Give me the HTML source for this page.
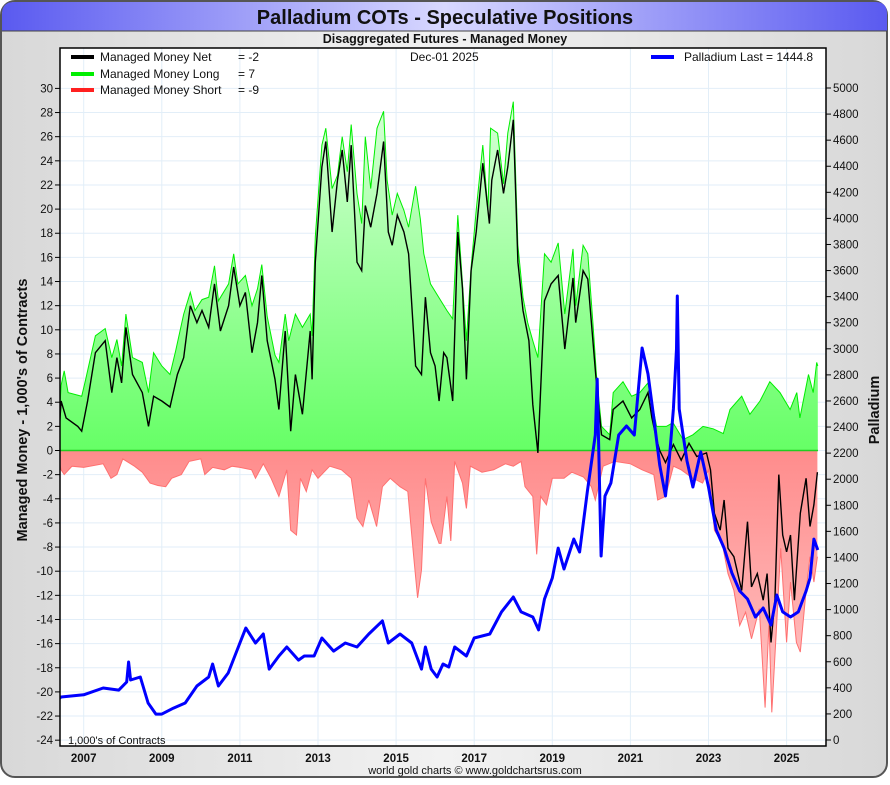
<!DOCTYPE html>
<html><head><meta charset="utf-8"><style>
html,body{margin:0;padding:0;background:#fff;}
body{width:890px;height:780px;overflow:hidden;font-family:"Liberation Sans",sans-serif;}
</style></head><body>
<svg id="chart" width="890" height="780" xmlns="http://www.w3.org/2000/svg" font-family="Liberation Sans, sans-serif">
<defs>
<linearGradient id="bgG" x1="0" y1="0" x2="1" y2="0"><stop offset="0" stop-color="#d8d8d8"/><stop offset="0.5" stop-color="#f2f2f2"/><stop offset="1" stop-color="#d8d8d8"/></linearGradient>
<linearGradient id="titleG" x1="0" y1="0" x2="1" y2="0"><stop offset="0" stop-color="#5a5af0"/><stop offset="0.5" stop-color="#d8d8ff"/><stop offset="1" stop-color="#5a5af0"/></linearGradient>
<linearGradient id="greenG" gradientUnits="userSpaceOnUse" x1="0" y1="100" x2="0" y2="450"><stop offset="0" stop-color="#d8ffd8"/><stop offset="1" stop-color="#66ff66"/></linearGradient>
<linearGradient id="redG" gradientUnits="userSpaceOnUse" x1="0" y1="450" x2="0" y2="720"><stop offset="0" stop-color="#ff8c8c"/><stop offset="1" stop-color="#ffc8c8"/></linearGradient>
<clipPath id="plotClip"><rect x="60" y="48" width="766" height="698"/></clipPath>
</defs>
<rect x="1" y="1" width="886" height="776" rx="14" fill="url(#bgG)" stroke="#555" stroke-width="2"/>
<path d="M2,31 L2,14 Q2,2 14,2 L876,2 Q887,2 887,14 L887,31 Z" fill="url(#titleG)"/>
<line x1="2" y1="31" x2="887" y2="31" stroke="#444" stroke-width="1"/>
<text x="445" y="24" text-anchor="middle" font-size="20" font-weight="bold" fill="#111">Palladium COTs - Speculative Positions</text>
<text x="445" y="43" text-anchor="middle" font-size="12.5" font-weight="bold" fill="#111">Disaggregated Futures - Managed Money</text>
<rect x="60" y="48" width="766" height="698" fill="#fff"/>
<g id="grid"></g>
<g id="series" clip-path="url(#plotClip)"></g>
<rect x="60" y="48" width="766" height="698" fill="none" stroke="#000" stroke-width="1.5"/>
<g id="axes" font-size="11.5" fill="#111"></g>
<text transform="translate(27,410) rotate(-90)" text-anchor="middle" font-size="14.5" font-weight="bold" fill="#111">Managed Money - 1,000's of Contracts</text>
<text transform="translate(879,410) rotate(-90)" text-anchor="middle" font-size="14.5" font-weight="bold" fill="#111">Palladium</text>
<g font-size="12" fill="#111">
<g><rect x="71" y="55" width="23" height="4" fill="#000"/><text x="100" y="61">Managed Money Net</text><text x="238" y="61">= -2</text></g>
<g><rect x="71" y="72" width="23" height="4" fill="#00ee00"/><text x="100" y="78">Managed Money Long</text><text x="238" y="78">= 7</text></g>
<g><rect x="71" y="88" width="23" height="4" fill="#ff2020"/><text x="100" y="94">Managed Money Short</text><text x="238" y="94">= -9</text></g>
<text x="410" y="61">Dec-01  2025</text>
<g><rect x="651" y="55" width="23" height="4" fill="#0000ff"/><text x="684" y="61">Palladium Last = 1444.8</text></g>
</g>
<text x="68" y="744" font-size="11" fill="#111">1,000's of Contracts</text>
<text x="475" y="774" text-anchor="middle" font-size="11" fill="#111">world gold charts © www.goldchartsrus.com</text>
</svg>
<script>
const longDates=[2006.38,2006.42,2006.5,2006.6,2006.95,2007.05,2007.3,2007.55,2007.72,2007.85,2007.97,2008.08,2008.25,2008.5,2008.66,2008.79,2009.0,2009.21,2009.35,2009.56,2009.73,2009.85,2010.03,2010.2,2010.35,2010.45,2010.71,2010.84,2010.95,2011.14,2011.31,2011.45,2011.56,2011.7,2011.9,2012.0,2012.16,2012.25,2012.42,2012.6,2012.8,2012.85,2012.93,2013.1,2013.2,2013.36,2013.5,2013.62,2013.75,2013.85,2014.0,2014.12,2014.21,2014.35,2014.51,2014.68,2014.77,2014.9,2015.03,2015.2,2015.32,2015.5,2015.62,2015.71,2015.88,2016.11,2016.3,2016.45,2016.58,2016.8,2016.92,2017.05,2017.22,2017.35,2017.42,2017.6,2017.75,2017.86,2018.0,2018.12,2018.25,2018.37,2018.5,2018.63,2018.8,2018.97,2019.15,2019.32,2019.53,2019.6,2019.79,2019.91,2020.04,2020.13,2020.26,2020.47,2020.56,2020.81,2021.03,2021.24,2021.45,2021.67,2021.92,2022.09,2022.35,2022.6,2022.86,2023.12,2023.38,2023.55,2023.85,2024.06,2024.32,2024.57,2024.83,2025.09,2025.26,2025.34,2025.56,2025.68,2025.77,2025.8];
const longVals=[3,5.4,6.6,4.8,4.5,5.9,9.5,10.1,7.7,9.2,7,11.3,7.7,7.3,4.8,8.1,7,6.3,8.2,11.3,13.1,11.6,12.5,12.7,15.3,12.4,13.8,16.3,13.8,14.5,12,13.4,15.4,11.1,7.9,7.3,11.3,9.1,11.3,10.2,11.3,9.5,17.7,25.3,26.7,21.7,22.8,26,23.1,27,21.3,18.8,26,21.7,26.7,28.1,22.4,19.5,21.3,19.9,18.5,21.9,19.2,16.3,13.8,12.6,11.6,10.9,19.5,9.1,15.2,19.9,25.3,19.9,26.7,26.3,22.1,26.3,28.9,17,12.7,10.6,9.1,7.7,16.3,15.6,17.2,11.3,16.7,12,17,16.3,10.6,6.3,2,1.3,4.8,5.7,4.5,4.8,5.6,2,2,2.3,0.9,1.3,2,1.8,1.4,3.4,4.5,3,4.1,5.7,4.8,3.4,4.8,2.7,6.3,4.8,7.3,7];
const netDates=[2006.38,2006.42,2006.55,2006.85,2006.95,2007.1,2007.3,2007.55,2007.72,2007.85,2007.97,2008.08,2008.25,2008.5,2008.66,2008.79,2009.0,2009.21,2009.4,2009.56,2009.73,2009.9,2010.03,2010.2,2010.35,2010.5,2010.71,2010.84,2011.0,2011.14,2011.31,2011.45,2011.56,2011.7,2011.9,2012.0,2012.16,2012.3,2012.42,2012.6,2012.8,2012.85,2012.93,2013.1,2013.2,2013.36,2013.5,2013.62,2013.75,2013.85,2014.0,2014.12,2014.21,2014.35,2014.51,2014.68,2014.8,2014.9,2015.03,2015.2,2015.32,2015.5,2015.65,2015.75,2015.88,2016.0,2016.1,2016.22,2016.3,2016.45,2016.58,2016.7,2016.8,2016.92,2017.05,2017.22,2017.39,2017.45,2017.6,2017.75,2017.86,2018.0,2018.12,2018.25,2018.4,2018.5,2018.63,2018.8,2018.97,2019.15,2019.32,2019.53,2019.6,2019.79,2019.91,2020.04,2020.13,2020.26,2020.47,2020.56,2020.81,2021.03,2021.24,2021.45,2021.55,2021.67,2021.75,2021.9,2022.1,2022.3,2022.5,2022.7,2022.95,2023.05,2023.15,2023.3,2023.4,2023.5,2023.65,2023.85,2024.0,2024.1,2024.25,2024.4,2024.5,2024.6,2024.7,2024.8,2024.9,2025.0,2025.1,2025.2,2025.35,2025.5,2025.6,2025.7,2025.79];
const netVals=[2,4.1,2.7,2,1.6,4.1,8.1,9.1,4.8,7.7,5.6,10.2,6.3,4.8,2,4.5,4.1,3.6,6.3,7.7,12,10.6,11.6,10.2,13.8,9.9,12,15.2,12,13.1,8.1,10.6,14.5,9.1,5.9,3.4,9.9,1.6,6.3,3,9.9,5.9,15.6,23.5,25.6,18.1,22.4,24.9,20.6,25.3,15.6,14.9,20.3,18.5,21.3,25.6,18.1,17,19.5,18.1,16.3,7,6.3,12.7,8.1,7,4.1,8.1,7.7,4.1,18.1,13.4,5.9,14.9,18.1,23.8,18.8,22.4,24.9,21.3,23.5,27.4,15.6,11.6,9.1,3.8,-0.2,12.4,13.8,14.5,8.4,14.3,10.6,14.9,14.2,9.1,5.6,1.3,0.9,3.4,4.1,2.7,3.4,4.8,2.7,0.9,0,-1,0.5,-0.8,0.6,-0.5,-0.2,-1.6,-5.2,-6.6,-4.1,-8.1,-8.8,-11.6,-5.9,-11.3,-10.2,-12.4,-10.2,-15.9,-12.4,-2,-7,-8.4,-7,-12.4,-5.2,-2.3,-6.3,-4.5,-1.8];
const shortDates=[2006.38,2006.42,2006.5,2006.7,2007.0,2007.5,2007.7,2007.85,2008.0,2008.3,2008.5,2008.7,2008.9,2009.1,2009.25,2009.5,2009.7,2010.0,2010.1,2010.3,2010.6,2010.8,2011.0,2011.3,2011.4,2011.6,2011.8,2012.0,2012.2,2012.3,2012.45,2012.55,2012.7,2012.85,2013.0,2013.3,2013.6,2013.85,2014.0,2014.15,2014.3,2014.5,2014.65,2014.85,2015.1,2015.3,2015.45,2015.55,2015.65,2015.75,2015.9,2016.1,2016.15,2016.3,2016.4,2016.5,2016.7,2016.8,2016.9,2017.2,2017.5,2017.8,2018.0,2018.2,2018.3,2018.5,2018.6,2018.7,2018.85,2019.0,2019.3,2019.5,2019.8,2020.0,2020.1,2020.3,2020.6,2021.0,2021.3,2021.6,2021.7,2021.9,2022.1,2022.3,2022.6,2022.85,2023.0,2023.15,2023.35,2023.5,2023.65,2023.8,2023.95,2024.1,2024.3,2024.45,2024.55,2024.62,2024.75,2024.85,2025.0,2025.1,2025.25,2025.35,2025.5,2025.6,2025.7,2025.79];
const shortVals=[-1,-1.6,-2,-1.3,-1.4,-1.1,-2.3,-2,-0.7,-1.3,-1.8,-2.7,-2.9,-3,-2.3,-2,-0.9,-0.7,-2,-1.4,-1.6,-1.3,-1.4,-1.6,-2.3,-1.1,-2.3,-3.8,-1.6,-6.6,-7,-2.3,-3.4,-1.6,-2.3,-1.3,-1.6,-2.3,-5.6,-6.3,-4.1,-6.3,-3,-2.3,-3,-3.4,-8.8,-12.2,-9.9,-2.3,-5.9,-7.7,-7.7,-3.8,-7.5,-0.9,-2.7,-4.8,-1.3,-1.8,-1.6,-1.1,-1.3,-0.9,-3,-3.8,-8.6,-3.8,-4.5,-2.3,-2.3,-1.8,-2.2,-3,-4.1,-1.3,-0.9,-1.1,-1.6,-2,-4.1,-3.8,-1.3,-1.6,-2.3,-2.7,-1.6,-6.6,-7.7,-10.2,-11.6,-14.5,-13.4,-15.6,-13.1,-21.3,-14.3,-21.7,-14.2,-8.1,-15.9,-10.9,-15.9,-16.7,-11.6,-8.8,-10.9,-8.8];
const priceDates=[2006.38,2006.42,2007.0,2007.5,2007.9,2008.1,2008.15,2008.2,2008.45,2008.65,2008.85,2009.0,2009.3,2009.6,2009.9,2010.2,2010.3,2010.45,2010.7,2011.0,2011.15,2011.4,2011.6,2011.75,2012.0,2012.2,2012.5,2012.65,2012.9,2013.1,2013.4,2013.7,2014.0,2014.3,2014.65,2014.8,2015.1,2015.4,2015.65,2015.75,2015.9,2016.05,2016.2,2016.35,2016.5,2016.8,2017.0,2017.4,2017.7,2018.0,2018.2,2018.5,2018.65,2018.8,2019.0,2019.15,2019.3,2019.55,2019.7,2019.9,2020.1,2020.15,2020.25,2020.35,2020.5,2020.7,2020.9,2021.1,2021.3,2021.45,2021.6,2021.75,2021.9,2022.0,2022.1,2022.18,2022.2,2022.25,2022.45,2022.6,2022.8,2023.0,2023.2,2023.4,2023.6,2023.8,2024.0,2024.2,2024.4,2024.6,2024.75,2024.9,2025.1,2025.3,2025.5,2025.6,2025.7,2025.8];
const priceVals=[320,330,347,399,383,445,598,460,483,284,199,199,245,284,414,483,583,414,514,744,859,744,813,544,644,713,613,644,644,782,682,744,713,813,913,744,813,744,544,713,544,483,583,560,713,644,782,813,982,1097,982,943,844,1081,1242,1472,1311,1541,1442,1909,2339,2768,1411,1871,1971,2339,2408,2339,3006,2807,2469,2109,1871,2170,2538,3000,3405,2538,2140,1940,2209,1940,1610,1472,1281,1143,1081,943,1012,882,1112,982,943,982,1143,1242,1541,1457];
const leftTicks=[30,28,26,24,22,20,18,16,14,12,10,8,6,4,2,0,-2,-4,-6,-8,-10,-12,-14,-16,-18,-20,-22,-24];
const rightTicks=[5000,4800,4600,4400,4200,4000,3800,3600,3400,3200,3000,2800,2600,2400,2200,2000,1800,1600,1400,1200,1000,800,600,400,200,0];
const yearTicks=[2007,2009,2011,2013,2015,2017,2019,2021,2023,2025];

const NS='http://www.w3.org/2000/svg';
function xS(t){return 83.7+(t-2007)*39.05;}
function yL(v){return 450.5-v*12.07;}
function yR(p){return 740-p*0.1304;}
function mk(tag,attrs,parent){const e=document.createElementNS(NS,tag);for(const k in attrs)e.setAttribute(k,attrs[k]);parent.appendChild(e);return e;}
const grid=document.getElementById('grid'),ser=document.getElementById('series'),axes=document.getElementById('axes');
leftTicks.forEach(v=>{
 const g=mk('line',{x1:60,x2:826,y1:yL(v),y2:yL(v),stroke:'#e2eef8','stroke-width':1},grid);
 
 
 mk('line',{x1:55,x2:60,y1:yL(v),y2:yL(v),stroke:'#000'},axes);
 const t=mk('text',{x:53,y:yL(v)+4,'text-anchor':'end'},axes);t.textContent=v;
 
 
});
rightTicks.forEach(p=>{
 mk('line',{x1:826,x2:831,y1:yR(p),y2:yR(p),stroke:'#000'},axes);
 const t=mk('text',{x:833,y:yR(p)+4},axes);t.textContent=p;
 
 
});
yearTicks.forEach(y=>{
 const g=mk('line',{x1:xS(y),x2:xS(y),y1:48,y2:746,stroke:'#e2eef8','stroke-width':1},grid);
 
 
 const t=mk('text',{x:xS(y),y:762,'text-anchor':'middle','font-weight':'bold'},axes);t.textContent=y;
 
 
});
function pts(d,v,f){return d.map((t,i)=>xS(t).toFixed(1)+','+f(v[i]).toFixed(1));}
function area(d,v,fill,stroke,name){
 const p=pts(d,v,yL);
 const a=mk('polygon',{points:xS(d[0]).toFixed(1)+','+yL(0)+' '+p.join(' ')+' '+xS(d[d.length-1]).toFixed(1)+','+yL(0),fill:fill},ser);
 
 
 const l=mk('polyline',{points:p.join(' '),fill:'none',stroke:stroke,'stroke-width':1},ser);
 
 
}
area(longDates,longVals,'url(#greenG)','#00ee00','long');
area(shortDates,shortVals,'url(#redG)','#ff7070','short');
const z=mk('line',{x1:60,x2:818,y1:yL(0),y2:yL(0),stroke:'#22cc22','stroke-width':1.5},ser);


const net=mk('polyline',{points:pts(netDates,netVals,yL).join(' '),fill:'none',stroke:'#000','stroke-width':1.4},ser);


const pr=mk('polyline',{points:pts(priceDates,priceVals,yR).join(' '),fill:'none',stroke:'#0000ff','stroke-width':3,'stroke-linejoin':'round'},ser);


</script>
</body></html>
